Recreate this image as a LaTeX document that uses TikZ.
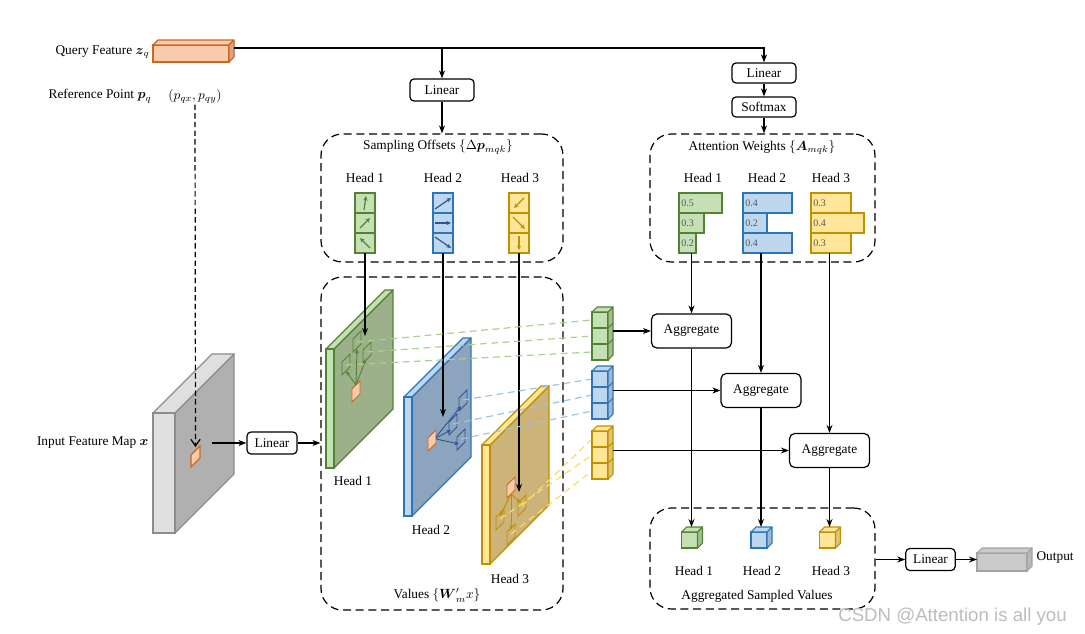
\documentclass[tikz,border=0pt]{standalone}
\usepackage{amsmath}
\usepackage{fontspec}
\setmainfont{Liberation Serif}
\newfontfamily\wmfont{Liberation Sans}
\usetikzlibrary{arrows.meta,calc,fit}
\definecolor{gfill}{HTML}{C5E0B4}
\definecolor{gline}{HTML}{548235}
\definecolor{gside}{HTML}{A2BD8E}
\definecolor{gplate}{HTML}{9CB08A}
\definecolor{gdash}{HTML}{A9D18E}
\definecolor{bfill}{HTML}{BDD7EE}
\definecolor{bline}{HTML}{2E75B6}
\definecolor{bdark}{HTML}{2F5597}
\definecolor{bside}{HTML}{9DB9D6}
\definecolor{bplate}{HTML}{8DA4BE}
\definecolor{bdash}{HTML}{9DC3E6}
\definecolor{yfill}{HTML}{FFE699}
\definecolor{yline}{HTML}{BF9000}
\definecolor{yside}{HTML}{DCC479}
\definecolor{yplate}{HTML}{CBB37A}
\definecolor{ydash}{HTML}{FFD966}
\definecolor{ofill}{HTML}{F8CBAD}
\definecolor{oline}{HTML}{D0661E}
\definecolor{oside}{HTML}{D3A88E}
\definecolor{mlight}{HTML}{E0E0E0}
\definecolor{mdark}{HTML}{B0B0B0}
\definecolor{mline}{HTML}{8C8C8C}
\definecolor{numgray}{HTML}{595959}
\definecolor{wmgray}{HTML}{BDBDBD}
\newcommand\pgram[3]{\draw[#3] (#1,#2) -- ++(0,-13) -- ++(8,-8) -- ++(0,13) -- cycle;}
\newcommand\stackcube[5]{%
  \foreach \k in {0,1,2} {\draw[#4, fill=#3, line width=0.8pt] (#1,#2+16*\k) rectangle ++(16,16);}
  \draw[#4, fill=#3, line width=0.8pt, line join=round] (#1,#2) -- ++(5,-5) -- ++(16,0) -- ++(-5,5) -- cycle;
  \draw[#4, fill=#5, line width=0.8pt, line join=round] (#1+16,#2) -- ++(5,-5) -- ++(0,48) -- ++(-5,5) -- cycle;
  \foreach \k in {1,2} {\draw[#4, line width=0.8pt] (#1+16,#2+16*\k) -- ++(5,-5);}
}
\newcommand\onecube[5]{%
  \draw[#4, fill=#3, line width=0.8pt] (#1,#2) rectangle ++(16,16);
  \draw[#4, fill=#3, line width=0.8pt, line join=round] (#1,#2) -- ++(5,-5) -- ++(16,0) -- ++(-5,5) -- cycle;
  \draw[#4, fill=#5, line width=0.8pt, line join=round] (#1+16,#2) -- ++(5,-5) -- ++(0,16) -- ++(-5,5) -- cycle;
}
\newcommand\plate[5]{%
  \draw[#4, fill=#5, line width=0.9pt, line join=round] (#1+8,#2) -- ++(59,-59) -- ++(0,119) -- ++(-59,59) -- cycle;
  \draw[#4, fill=#3, line width=0.9pt, line join=round] (#1,#2) -- ++(59,-59) -- ++(8,0) -- ++(-59,59) -- cycle;
  \draw[#4, fill=#3, line width=0.9pt] (#1,#2) rectangle ++(8,119);
}
\tikzset{
  lbl/.style={font=\fontsize{10}{12}\selectfont, inner sep=1pt},
  bx/.style={draw, line width=0.9pt, rounded corners=3pt, fill=white, font=\fontsize{10}{12}\selectfont, inner sep=0pt},
  aggbox/.style={bx, rounded corners=4pt, minimum width=60pt, minimum height=25.5pt},
  grp/.style={draw, line width=0.9pt, dash pattern=on 6pt off 3.5pt, rounded corners=16pt, inner sep=0pt},
  conn/.style={line width=0.9pt, -{Stealth[length=6pt,width=4.5pt]}},
  cellarr/.style={line width=0.9pt, -{Stealth[length=3.5pt,width=3.2pt]}},
  smarr/.style={line width=0.7pt, -{Stealth[length=3.5pt,width=3pt]}},
  smp/.style={line width=0.7pt},
  cdash/.style={line width=0.9pt, dash pattern=on 5pt off 3.5pt},
  num/.style={anchor=west, inner sep=0pt, text=numgray, font=\fontsize{7.5}{9}\selectfont},
}
\begin{document}
\begin{tikzpicture}[x=0.75pt, y=-0.75pt]
\useasboundingbox (0,0) rectangle (1085,634);

% ---------------- groups ----------------
\node[grp, fit={(321,134) (563,262)}] (so) {};
\node[grp, fit={(650,134) (875,262)}] (aw) {};
\node[grp, fit={(321,277) (563,610)}] (vals) {};
\node[grp, fit={(650,508) (875,609)}] (asv) {};

% ---------------- query / reference ----------------
\draw[oline, fill=ofill, line width=0.8pt] (153,45) rectangle (229,62);
\draw[oline, fill=ofill, line width=0.8pt, line join=round] (153,45) -- (158,40) -- (234,40) -- (229,45) -- cycle;
\draw[oline, fill=oside, line width=0.8pt, line join=round] (229,45) -- (234,40) -- (234,57) -- (229,62) -- cycle;
\coordinate (qfe) at (234,48);
\node[lbl, anchor=east] (qlab) at (151,52) {Query Feature $\boldsymbol{z}_q$};
\node[lbl, anchor=east] (rlab) at (153,96) {Reference Point $\boldsymbol{p}_q$};
\node[lbl] (pq) at (195,96) {$(p_{qx},p_{qy})$};

% ---------------- linear / softmax boxes ----------------
\node[bx, minimum width=48pt, minimum height=16.5pt] (lin1) at (442,90) {Linear};
\node[bx, minimum width=48pt, minimum height=15pt] (lin2) at (764,73) {Linear};
\node[bx, minimum width=48pt, minimum height=15pt] (sm) at (764,107) {Softmax};
\draw[conn] (qfe) -| (lin2.north);
\draw[conn] (qfe -| lin1.north) -- (lin1.north);
\draw[conn] (lin1.south) -- (lin1.south |- so.north);
\draw[conn] (lin2.south) -- (sm.north);
\draw[conn] (sm.south) -- (sm.south |- aw.north);

% ---------------- sampling offsets ----------------
\node[lbl] (sot) at (438,147) {Sampling Offsets $\{\Delta\boldsymbol{p}_{mqk}\}$};
\node[lbl] (soh1) at (365,178) {Head 1};
\node[lbl] (soh2) at (443,178) {Head 2};
\node[lbl] (soh3) at (520,178) {Head 3};
\foreach \i in {0,1,2} {
  \draw[gline, fill=gfill, line width=0.9pt] (355,193+20*\i) rectangle ++(20,20);
  \draw[bline, fill=bfill, line width=0.9pt] (433,193+20*\i) rectangle ++(20,20);
  \draw[yline, fill=yfill, line width=0.9pt] (509,193+20*\i) rectangle ++(20,20);
}
\draw[cellarr, gline] (364,210) -- (366,196);
\draw[cellarr, gline] (360,228) -- (370,218);
\draw[cellarr, gline] (370,248) -- (360,238);
\draw[cellarr, bdark] (435,209) -- (451,198);
\draw[cellarr, bdark] (435,223) -- (451,223);
\draw[cellarr, bdark] (435,237) -- (451,248);
\draw[cellarr, yline] (524,198) -- (514,208);
\draw[cellarr, yline] (513,217) -- (525,229);
\draw[cellarr, yline] (519,236) -- (519,250);
\coordinate (gcol) at (365,253);
\coordinate (bcol) at (443,253);
\coordinate (ycol) at (519,253);

% ---------------- attention weights ----------------
\node[lbl] (awt) at (762,147) {Attention Weights $\{\boldsymbol{A}_{mqk}\}$};
\node[lbl] (awh1) at (703,178) {Head 1};
\node[lbl] (awh2) at (767,178) {Head 2};
\node[lbl] (awh3) at (831,178) {Head 3};
\foreach \w/\t [count=\i from 0] in {722/0.5,704/0.3,696/0.2} {
  \draw[gline, fill=gfill, line width=0.9pt] (679,193+20*\i) rectangle (\w,213+20*\i);
  \node[num] (awg\i) at (681,203+20*\i) {\t};
}
\foreach \w/\t [count=\i from 0] in {792/0.4,767/0.2,792/0.4} {
  \draw[bline, fill=bfill, line width=0.9pt] (743,193+20*\i) rectangle (\w,213+20*\i);
  \node[num] (awb\i) at (745,203+20*\i) {\t};
}
\foreach \w/\t [count=\i from 0] in {851/0.3,864/0.4,851/0.3} {
  \draw[yline, fill=yfill, line width=0.9pt] (811,193+20*\i) rectangle (\w,213+20*\i);
  \node[num] (awy\i) at (813,203+20*\i) {\t};
}
\coordinate (gbar) at (691.5,253);
\coordinate (bbar) at (761,253);
\coordinate (ybar) at (829.5,253);

% ---------------- input feature map ----------------
\draw[mline, fill=mdark, line width=0.9pt, line join=round] (175,413) -- (234,354) -- (234,474) -- (175,533) -- cycle;
\draw[mline, fill=mlight, line width=0.9pt, line join=round] (153,413) -- (212,354) -- (234,354) -- (175,413) -- cycle;
\draw[mline, fill=mlight, line width=0.9pt] (153,413) rectangle (175,533);
\draw[oline, fill=ofill, line width=0.8pt] (191,467) -- (191,455) -- (200,446) -- (200,458) -- cycle;
\coordinate (mapref) at (195.5,447);
\coordinate (mapout) at (212,443);
\node[lbl, anchor=east] (iflab) at (150,443) {Input Feature Map $\boldsymbol{x}$};
\draw[line width=0.9pt, dash pattern=on 4pt off 2.5pt, -{Straight Barb[length=5pt,width=7pt]}] (pq.south) -- (mapref);
\node[bx, minimum width=37.5pt, minimum height=16.5pt] (lin0) at (272,443) {Linear};
\draw[conn] (mapout) -- (lin0.west);
\draw[conn] (lin0.east) -- (lin0.east -| vals.west);

% ---------------- value plates ----------------
\plate{326}{349}{gfill}{gline}{gplate}
\plate{404}{397}{bfill}{bline}{bplate}
\plate{482}{445}{yfill}{yline}{yplate}
\node[lbl] (vh1) at (353,481) {Head 1};
\node[lbl] (vh2) at (431,530) {Head 2};
\node[lbl] (vh3) at (510,579) {Head 3};
\node[lbl] (valt) at (437,595) {Values $\{\boldsymbol{W}'_m x\}$};

% reference points on plates
\pgram{352}{402}{oline, fill=ofill, smp}
\pgram{428}{451}{oline, fill=ofill, smp}
\pgram{507}{498}{oline, fill=ofill, smp}
% green samples
\pgram{353}{352}{gline, smp}
\pgram{363}{363}{gline, smp}
\pgram{342}{375}{gline, smp}
\draw[smarr, gline] (356,385) -- (357,349);
\draw[smarr, gline] (356,385) -- (366,359);
\draw[smarr, gline] (356,385) -- (346,371);
% blue samples
\pgram{459}{411}{bdark, smp}
\pgram{449}{435}{bdark, smp}
\pgram{457}{450}{bdark, smp}
\draw[smarr, bdark] (436,437) -- (461,406);
\draw[smarr, bdark] (436,438) -- (451,430);
\draw[smarr, bdark] (436,439) -- (459,444);
% yellow samples
\pgram{518}{516}{yline, smp}
\pgram{496}{530}{yline, smp}
\pgram{507}{545}{yline, smp}
\draw[smarr, yline] (511,494) -- (521,503);
\draw[smarr, yline] (511,494) -- (500,516);
\draw[smarr, yline] (511,494) -- (511,530);

% arrows from offsets into plates
\draw[conn] (gcol) -- (365,336);
\draw[conn] (bcol) -- (443,417);
\draw[conn] (ycol) -- (519,492);

% dashed sampling lines
\draw[cdash, gdash] (357,342) -- (592,320);
\draw[cdash, gdash] (367,352) -- (592,336);
\draw[cdash, gdash] (346,365) -- (592,352);
\draw[cdash, bdash] (463,400) -- (592,379);
\draw[cdash, bdash] (453,424) -- (592,395);
\draw[cdash, bdash] (461,439) -- (592,411);
\draw[cdash, ydash] (522,506) -- (592,439);
\draw[cdash, ydash] (500,519) -- (592,455);
\draw[cdash, ydash] (511,534) -- (592,471);

% ---------------- sampled value stacks ----------------
\stackcube{592}{312}{gfill}{gline}{gside}
\stackcube{592}{371}{bfill}{bline}{bside}
\stackcube{592}{431}{yfill}{yline}{yside}
\coordinate (gout) at (613,331);
\coordinate (bout) at (613,390.5);
\coordinate (yout) at (613,450.5);

% ---------------- aggregates ----------------
\node[aggbox] (agg1) at (691.5,331) {Aggregate};
\node[aggbox] (agg2) at (761,390.5) {Aggregate};
\node[aggbox] (agg3) at (829.5,450.5) {Aggregate};
\draw[conn] (gbar) -- (agg1.north);
\draw[conn] (bbar) -- (agg2.north);
\draw[conn] (ybar) -- (agg3.north);
\draw[conn] (gout) -- (gout -| agg1.west);
\draw[conn] (bout) -- (bout -| agg2.west);
\draw[conn] (yout) -- (yout -| agg3.west);

% ---------------- aggregated sampled values ----------------
\onecube{681.5}{532}{gfill}{gline}{gside}
\onecube{751}{532}{bfill}{bline}{bside}
\onecube{819.5}{532}{yfill}{yline}{yside}
\coordinate (c1) at (691.5,527);
\coordinate (c2) at (761,527);
\coordinate (c3) at (829.5,527);
\draw[conn] (agg1.south) -- (c1);
\draw[conn] (agg2.south) -- (c2);
\draw[conn] (agg3.south) -- (c3);
\node[lbl] (ah1) at (694,571) {Head 1};
\node[lbl] (ah2) at (762,571) {Head 2};
\node[lbl] (ah3) at (831,571) {Head 3};
\node[lbl] (asvt) at (757,596) {Aggregated Sampled Values};

% ---------------- output ----------------
\node[bx, minimum width=37pt, minimum height=16.5pt] (lin3) at (930.5,559.5) {Linear};
\draw[conn] (asv.east |- lin3.west) -- (lin3.west);
\draw[mline!80, fill=mlight!90!black, line width=0.8pt] (977,553) rectangle (1027,571);
\draw[mline!80, fill=mlight!90!black, line width=0.8pt, line join=round] (977,553) -- (982,548) -- (1032,548) -- (1027,553) -- cycle;
\draw[mline!80, fill=mdark!90, line width=0.8pt, line join=round] (1027,553) -- (1032,548) -- (1032,566) -- (1027,571) -- cycle;
\coordinate (outbox) at (977,559.5);
\draw[conn] (lin3.east) -- (outbox);
\node[lbl, anchor=west] (outlab) at (1035,558) {Output};

% watermark
\node[anchor=base west, inner sep=0pt, text=wmgray, font=\wmfont\fontsize{14}{16}\selectfont] (wm) at (838,621) {CSDN @Attention is all you};
\end{tikzpicture}
\end{document}
